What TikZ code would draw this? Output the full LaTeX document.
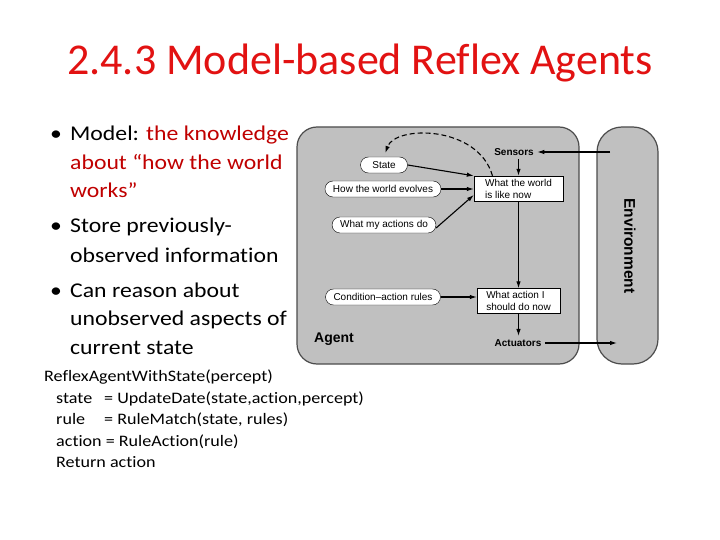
\documentclass[tikz,border=0pt]{standalone}
\usepackage{fontspec}
\setmainfont{Carlito}[Ligatures=NoCommon]
\newfontfamily\widefont{Carlito}[FakeStretch=1.13, Ligatures=NoCommon]
\newfontfamily\diagfont{Liberation Sans}[Ligatures=TeX]
\usetikzlibrary{arrows.meta}
\definecolor{titlered}{RGB}{226,18,18}
\definecolor{darkred}{RGB}{192,0,0}
\definecolor{panelgray}{RGB}{192,192,192}
\newcommand{\dfont}{\diagfont\fontsize{10}{12}\selectfont}
\tikzset{
  panel/.style={draw=black!70, line width=1.2pt, fill=panelgray, rounded corners=20pt},
  oval/.style={draw=black, fill=white, rounded corners=8pt, inner xsep=8pt, inner ysep=0pt,
    minimum height=16pt, font=\dfont},
  box/.style={draw=black, fill=white, align=left, inner sep=0pt, minimum height=25pt, font=\dfont},
  lab/.style={font=\diagfont\bfseries\fontsize{10}{12}\selectfont},
  flow/.style={-{Latex[length=7pt,width=4.5pt]}, line width=1.1pt},
  bline/.style={anchor=base west, font=\widefont\fontsize{21}{24}\selectfont, inner sep=0pt},
  cline/.style={anchor=base west, font=\widefont\fontsize{16}{19}\selectfont, inner sep=0pt},
}
\begin{document}
\begin{tikzpicture}[x=1pt,y=-1pt]
\useasboundingbox[fill=white] (0,0) rectangle (720,540);
% title
\node[font=\fontsize{44}{52}\selectfont, text=titlered, anchor=base] (title) at (360,75) {2.4.3 Model-based Reflex Agents};
% bullets
\node[bline] (b1) at (50,141) {\textbullet};
\node[bline] (l1) at (70,141) {Model: \textcolor{darkred}{the knowledge}};
\node[bline, text=darkred] (l2) at (70,169.5) {about “how the world};
\node[bline, text=darkred] (l3) at (70,198) {works”};
\node[bline] (b2) at (50,233) {\textbullet};
\node[bline] (l4) at (70,233) {Store previously-};
\node[bline] (l5) at (70,262) {observed information};
\node[bline] (b3) at (50,297) {\textbullet};
\node[bline] (l6) at (70,297) {Can reason about};
\node[bline] (l7) at (70,325) {unobserved aspects of};
\node[bline] (l8) at (70,354) {current state};
% pseudo code
\node[cline] (c1) at (44,381) {ReflexAgentWithState(percept)};
\node[cline] (c2) at (56,403) {\makebox[48pt][l]{state}= UpdateDate(state,action,percept)};
\node[cline] (c3) at (56,424) {\makebox[48pt][l]{rule}= RuleMatch(state, rules)};
\node[cline] (c4) at (56,446) {action = RuleAction(rule)};
\node[cline] (c5) at (56,467) {Return action};
% agent and environment
\draw[panel] (297,127) rectangle (579,364);
\draw[panel, rounded corners=25pt] (597,127) rectangle (658,364);
\node[font=\diagfont\bfseries\fontsize{14}{16}\selectfont] (agent) at (334,339) {Agent};
\node[font=\diagfont\bfseries\fontsize{15.5}{18}\selectfont, rotate=-90] (env) at (630,246) {Environment};
\coordinate (envin) at (610,152);
\coordinate (envout) at (617,343);
% inside the agent
\node[oval, minimum width=47pt] (state) at (384,165) {State};
\node[oval] (evolves) at (383,189) {How the world evolves};
\node[oval] (actions) at (384,225) {What my actions do};
\node[oval] (rules) at (383,297) {Condition–action rules};
\node[box, minimum width=89pt] (world) at (518.5,188.5) {What the world\\is like now};
\node[box, minimum width=83pt] (action) at (518.5,301) {What action I\\should do now};
\node[lab] (sensors) at (514,152) {Sensors};
\node[lab] (actuators) at (518,343) {Actuators};
% connections
\draw[flow] (envin) -- (sensors.east);
\draw[flow] (world.north |- sensors.south) -- (world.north);
\draw[flow] (state.east) -- (world.north west);
\draw[flow] (evolves.east) -- (evolves.east -| world.west);
\draw[flow] ([yshift=-3pt]actions.east) -- ([yshift=-6.5pt]world.west);
\draw[flow, dashed, dash pattern=on 5pt off 3pt, shorten >=4pt] ([xshift=-26pt]world.north)
  .. controls (478,125) and (395,125) .. (state.north);
\draw[flow] (world.south) -- (action.north);
\draw[flow] (rules.east) -- (rules.east -| action.west);
\draw[flow] (action.south) -- (action.south |- actuators.north);
\draw[flow] (actuators.east) -- (envout);
\end{tikzpicture}
\end{document}
